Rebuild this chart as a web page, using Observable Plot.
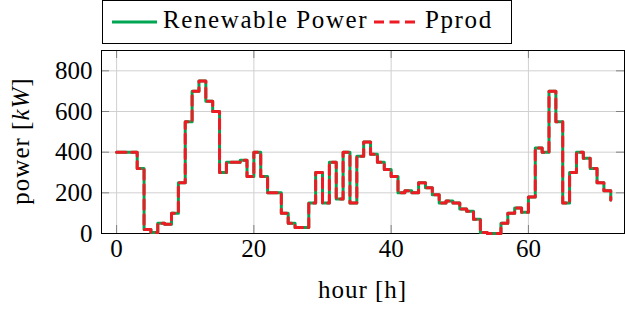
<!DOCTYPE html>
<html><head><meta charset="utf-8">
<script src="https://cdn.jsdelivr.net/npm/d3@7"></script>
<script src="https://cdn.jsdelivr.net/npm/@observablehq/plot@0.6"></script>
<style>
html,body{margin:0;padding:0;background:#fff;overflow:hidden;}
#wrap{position:relative;width:625px;height:311px;}
#legend{position:absolute;left:0;top:0;}
</style></head><body><div id="wrap"></div>
<script>
const hours = [0,1,2,3,4,5,6,7,8,9,10,11,12,13,14,15,16,17,18,19,20,21,22,23,24,25,26,27,28,29,30,31,32,33,34,35,36,37,38,39,40,41,42,43,44,45,46,47,48,49,50,51,52,53,54,55,56,57,58,59,60,61,62,63,64,65,66,67,68,69,70,71,72];
const renewablePower = [400,400,400,320,20,5,50,45,100,250,550,700,750,650,600,300,350,350,360,280,400,280,200,200,100,50,30,30,150,300,150,350,170,400,150,380,450,390,350,315,280,200,210,200,250,225,190,150,160,150,120,110,70,5,0,0,50,100,125,105,180,420,400,700,550,150,300,400,370,320,250,210,165];
const pprod = [400,400,400,320,20,5,50,45,100,250,550,700,750,650,600,300,350,350,360,280,400,280,200,200,100,50,30,30,150,300,150,350,170,400,150,380,450,390,350,315,280,200,210,200,250,225,190,150,160,150,120,110,70,5,0,0,50,100,125,105,180,420,400,700,550,150,300,400,370,320,250,210,165];
const xTicks = [0,20,40,60];
const yTicks = [0,200,400,600,800];
const seriesNames = ["Renewable Power","Pprod"];
const seriesColors = ["#00a651","#ed1c24"];
const xLabel = "hour [h]";
const yLabelMain = "power ";
const yLabelUnit = "kW";

const FONT = "'Liberation Serif', 'Times New Roman', 'DejaVu Serif', serif";
const data = hours.map((h,i)=>({h, rp: renewablePower[i], pp: pprod[i]}));
const W = 625, H = 311, mL = 101, mR = 1, mT = 50, mB = 78;
const innerW = W - mL - mR, innerH = H - mT - mB, tk = 8;

const chart = Plot.plot({
  width: W, height: H,
  marginLeft: mL, marginRight: mR, marginTop: mT, marginBottom: mB,
  style: {background: "white", color: "black", fontFamily: FONT, fontSize: "25px", overflow: "visible"},
  x: {domain: [-2.2, 74], ticks: xTicks, tickSize: 0, tickPadding: 6, label: null},
  y: {domain: [0, 900], ticks: yTicks, tickSize: 0, tickPadding: 9, label: null},
  marks: [
    Plot.ruleX(xTicks, {x: d => d, stroke: "#d0d0d0", strokeWidth: 1}),
    Plot.ruleY(yTicks, {y: d => d, stroke: "#d0d0d0", strokeWidth: 1}),
    Plot.tickX(xTicks, {x: d => d, stroke: "#808080", insetBottom: innerH - tk}),
    Plot.tickX(xTicks, {x: d => d, stroke: "#808080", insetTop: innerH - tk}),
    Plot.tickY(yTicks, {y: d => d, stroke: "#808080", insetRight: innerW - tk}),
    Plot.tickY(yTicks, {y: d => d, stroke: "#808080", insetLeft: innerW - tk}),
    Plot.frame({stroke: "black", strokeWidth: 1}),
    Plot.line(data, {x: "h", y: "rp", curve: "step-after", stroke: seriesColors[0], strokeWidth: 3}),
    Plot.line(data, {x: "h", y: "pp", curve: "step-after", stroke: seriesColors[1], strokeWidth: 3, strokeDasharray: "9.5,5.5"})
  ]
});
const wrap = document.getElementById("wrap");
wrap.appendChild(chart);

const svg = d3.select(chart.tagName.toLowerCase() === "svg" ? chart : chart.querySelector("svg"));
svg.append("text").attr("class", "ttl").attr("x", mL + innerW / 2).attr("y", 298).attr("text-anchor", "middle")
  .attr("fill", "black").text(xLabel);
const yl = svg.append("text").attr("class", "ttl").attr("transform", `translate(28.5,141) rotate(-90)`).attr("text-anchor", "middle")
  .attr("fill", "black");
yl.append("tspan").text(yLabelMain + "[");
yl.append("tspan").style("font-style", "italic").text(yLabelUnit);
yl.append("tspan").text("]");

// legend
const lg = d3.select(wrap).append("svg").attr("id", "legend").attr("width", W).attr("height", 48);
lg.append("rect").attr("x", 102.5).attr("y", 0.5).attr("width", 409).attr("height", 43)
  .attr("fill", "white").attr("stroke", "black").attr("stroke-width", 1);
lg.append("line").attr("x1", 112).attr("x2", 157).attr("y1", 22).attr("y2", 22)
  .attr("stroke", seriesColors[0]).attr("stroke-width", 3);
lg.append("text").attr("class", "lgt").attr("x", 163).attr("y", 28).attr("fill", "black").text(seriesNames[0]);
lg.append("line").attr("x1", 374).attr("x2", 415).attr("y1", 22).attr("y2", 22)
  .attr("stroke", seriesColors[1]).attr("stroke-width", 3).attr("stroke-dasharray", "10,5.5");
lg.append("text").attr("class", "lgt").attr("x", 425).attr("y", 28).attr("fill", "black").text(seriesNames[1]);

d3.select(wrap).selectAll("text")
  .style("font-family", FONT).style("font-size", "25px").attr("font-family", null).attr("font-size", null);
d3.select(wrap).selectAll("text.lgt").style("letter-spacing", "1.6px");
d3.select(wrap).selectAll("text.ttl").style("letter-spacing", "1px");
</script></body></html>
